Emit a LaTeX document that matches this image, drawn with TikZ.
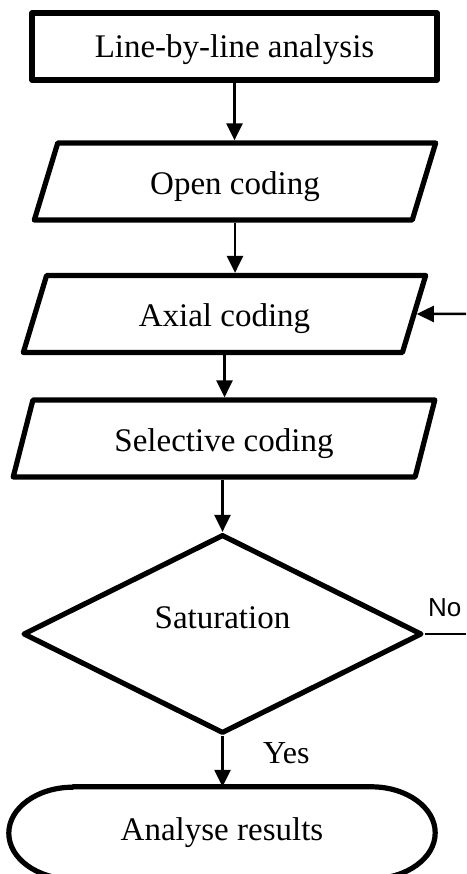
\documentclass[tikz,border=0pt]{standalone}
\usepackage{fontspec}
\setmainfont{Liberation Serif}
\newfontfamily\nofont{Liberation Sans}
\usetikzlibrary{shapes.geometric,arrows.meta,positioning}
\begin{document}
\begin{tikzpicture}[x=1pt,y=1pt,
  font=\fontsize{33}{40}\selectfont,
  >={Triangle[width=16pt,length=17pt]},
  border/.style={line width=5.2pt,line join=round},
  conn/.style={line width=2.5pt},
  box/.style={border,draw=black,shape=rectangle,minimum width=405pt,minimum height=67pt,
    text height=29pt,text depth=7pt},
  io/.style={border,draw=black,shape=trapezium,trapezium left angle=76,trapezium right angle=104,
    trapezium stretches=true,minimum height=77pt,text height=33pt,text depth=7pt},
  decision/.style={border,draw=black,shape=diamond,aspect=2,inner sep=0pt,
    minimum width=399pt,minimum height=199pt,text height=23pt,text depth=33pt},
  terminal/.style={draw=none,shape=rectangle,minimum width=426pt,minimum height=92pt}]
\useasboundingbox (0,0) rectangle (466,874);
\node[box] (line) at (234.5,827.5) {Line-by-line analysis};
\node[io,minimum width=402pt] (open) at (235,692.5) {Open coding};
\node[io,minimum width=403pt] (axial) at (224.5,560) {Axial coding};
\node[io,minimum width=422pt] (select) at (224,435.5) {Selective coding};
\node[decision] (sat) at (222.5,240) {Saturation};
\node[terminal] (res) at (222,41) {Analyse results};
% rounded ends of the last step
\draw[border] ([xshift=64pt]res.north west) -- ([xshift=-64pt]res.north east)
  arc[start angle=90,end angle=-90,x radius=64pt,y radius=46pt]
  -- ([xshift=64pt]res.south west)
  arc[start angle=270,end angle=90,x radius=64pt,y radius=46pt] -- cycle;
\coordinate (fbIn) at (466,560);
\coordinate (noEnd) at (466,240);
\path [->,conn] (line.south) edge (line.south |- open.north);
\path [->,conn] (open.south) edge (open.south |- axial.north);
\path [->,conn] (axial.south) edge (axial.south |- select.north);
\path [->,conn] (sat.north |- select.south) edge (sat.north);
\draw [->,conn] (sat.south) -- (sat.south |- res.north)
  node[pos=0.33,anchor=west,xshift=36pt,font=\fontsize{32}{38}\selectfont] {Yes};
\draw [conn] (sat.east) -- (noEnd)
  node[pos=0,anchor=base west,xshift=-1pt,yshift=17pt,font=\nofont\fontsize{26}{30}\selectfont] {No};
\path [->,conn] (fbIn) edge (axial.east);
\end{tikzpicture}
\end{document}
